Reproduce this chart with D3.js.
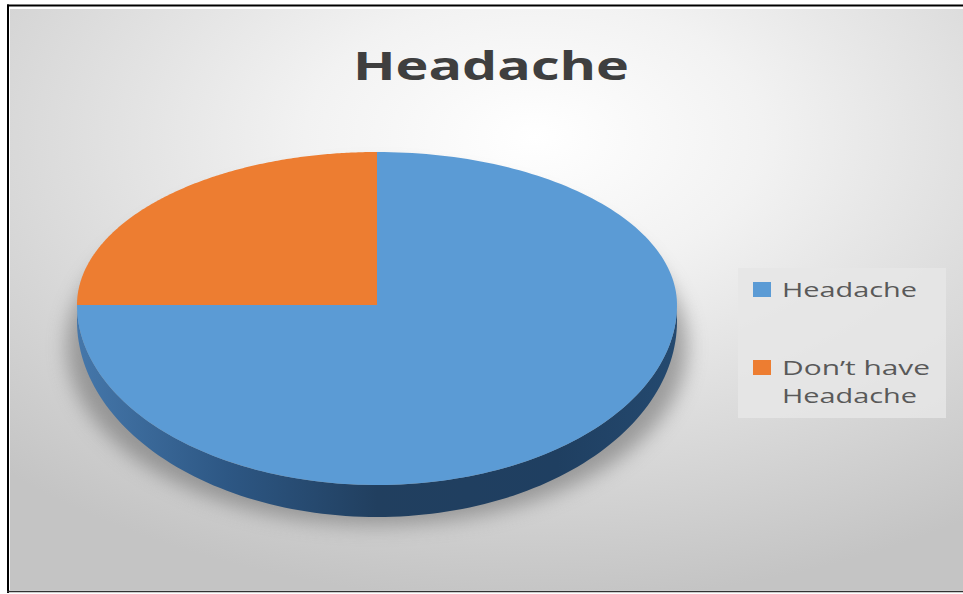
<!DOCTYPE html>
<html><head><meta charset="utf-8">
<script src="https://cdn.jsdelivr.net/npm/d3@7/dist/d3.min.js"></script>
<style>html,body{margin:0;padding:0;background:#fff;overflow:hidden}</style>
</head><body>
<svg id="c" width="963" height="594"></svg>
<script>
const categories = ["Headache", "Don\u2019t have Headache"];
const legendLines = [["Headache"], ["Don\u2019t have", "Headache"]];
const values = [75, 25];
const colors = ["#5b9bd5", "#ed7d31"];
const title = "Headache";

const svg = d3.select("#c");
const defs = svg.append("defs");

// background gradient
const bg = defs.append("radialGradient").attr("id","bg")
  .attr("cx","55%").attr("cy","22%").attr("r","80%").attr("fx","55%").attr("fy","22%");
bg.append("stop").attr("offset","0").attr("stop-color","#ffffff");
bg.append("stop").attr("offset","0.3").attr("stop-color","#f2f2f2");
bg.append("stop").attr("offset","1").attr("stop-color","#c4c4c4");

const side = defs.append("linearGradient").attr("id","side").attr("x1","0").attr("x2","1").attr("y1","0").attr("y2","0");
side.append("stop").attr("offset","0").attr("stop-color","#4577aa");
side.append("stop").attr("offset","0.25").attr("stop-color","#2d5784");
side.append("stop").attr("offset","0.5").attr("stop-color","#213f5f");
side.append("stop").attr("offset","0.8").attr("stop-color","#1f3f61");
side.append("stop").attr("offset","1").attr("stop-color","#24496f");

const blur = defs.append("filter").attr("id","blur").attr("x","-20%").attr("y","-20%").attr("width","140%").attr("height","140%");
blur.append("feGaussianBlur").attr("stdDeviation", 10);

// frame
svg.append("rect").attr("x",10).attr("y",9).attr("width",953).attr("height",581).attr("fill","url(#bg)");
svg.append("line").attr("x1",7).attr("x2",963).attr("y1",5.5).attr("y2",5.5).attr("stroke","#000").attr("stroke-width",2);
svg.append("line").attr("x1",8).attr("x2",8).attr("y1",4.5).attr("y2",593).attr("stroke","#000").attr("stroke-width",2);
svg.append("line").attr("x1",7).attr("x2",963).attr("y1",591.5).attr("y2",591.5).attr("stroke","#333").attr("stroke-width",1.5);

// title
svg.append("text").attr("x",491).attr("y",80).attr("text-anchor","middle")
  .attr("font-family","Open Sans, sans-serif").attr("font-weight",700).attr("font-size",40)
  .attr("fill","#3f3f3f").attr("textLength",276).attr("lengthAdjust","spacingAndGlyphs").text(title);

// pie geometry
const cx = 377, cy = 305, rx = 300, ryTop = 153, ryBot = 180;
const d0 = 16, d1 = 16;
const xs = d3.scaleLinear().domain([-1,1]).range([cx-rx, cx+rx]);
function P(a){ const s = Math.sin(a), c = -Math.cos(a);
  return [xs(s), cy + (c < 0 ? ryTop : ryBot) * c]; }
function depth(a){ const c = -Math.cos(a); return c > 0 ? d0 + d1*c : d0; }

const pie = d3.pie().sort(null).value(d => d);
const arcs = pie(values);

// shadow
svg.append("ellipse").attr("cx",cx).attr("cy",cy+42).attr("rx",rx+10).attr("ry",ryBot-2)
  .attr("fill","#6e6e6e").attr("opacity",0.6).attr("filter","url(#blur)");

// sides (front half: angles pi/2..3pi/2)
arcs.forEach((d,i) => {
  const a0 = Math.max(d.startAngle, Math.PI/2), a1 = Math.min(d.endAngle, 3*Math.PI/2);
  if (a1 <= a0) return;
  const n = 120, top = [], bot = [];
  for (let k=0;k<=n;k++){ const a = a0 + (a1-a0)*k/n; const p = P(a); top.push(p); bot.push([p[0], p[1]+depth(a)]); }
  const pts = top.concat(bot.reverse());
  svg.append("path").attr("d", d3.line()(pts) + "Z")
    .attr("fill", i===0 ? "url(#side)" : d3.color(colors[i]).darker(1.2));
});

// top faces
arcs.forEach((d,i) => {
  const n = 200, pts = [[cx,cy]];
  for (let k=0;k<=n;k++){ const a = d.startAngle + (d.endAngle-d.startAngle)*k/n; pts.push(P(a)); }
  svg.append("path").attr("d", d3.line()(pts) + "Z").attr("fill", colors[i]);
});

// legend
const lg = svg.append("g");
lg.append("rect").attr("x",738).attr("y",268).attr("width",208).attr("height",150).attr("fill","#e6e6e6").attr("opacity",0.85);
const rowY = [297, 375];
const textW = {"Headache":135, "Don\u2019t have":148};
legendLines.forEach((lines,i) => {
  lg.append("rect").attr("x",753).attr("y",rowY[i]-15).attr("width",18).attr("height",15).attr("fill",colors[i]);
  lines.forEach((t,j) => {
    lg.append("text").attr("x",782).attr("y",rowY[i]+j*28)
      .attr("font-family","Open Sans, sans-serif").attr("font-size",20).attr("fill","#595959")
      .attr("textLength",textW[t]).attr("lengthAdjust","spacingAndGlyphs").text(t);
  });
});
</script>
</body></html>
